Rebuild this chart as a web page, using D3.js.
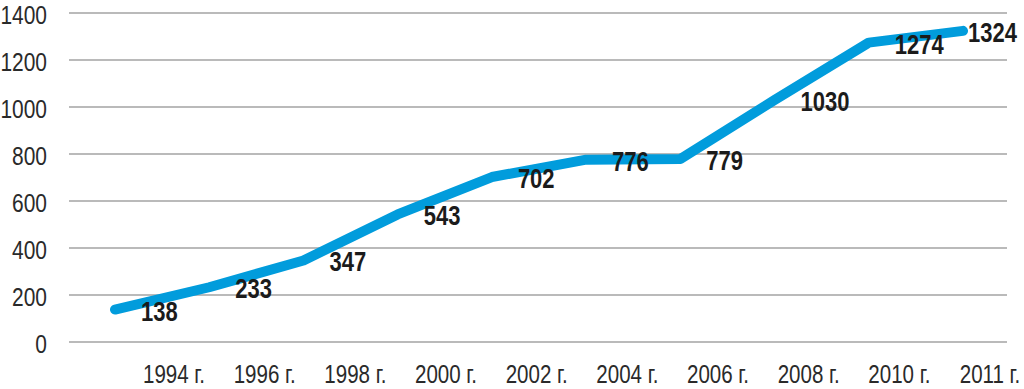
<!DOCTYPE html>
<html>
<head>
<meta charset="utf-8">
<script src="https://cdn.jsdelivr.net/npm/d3@7"></script>
<style>
  html, body { margin: 0; padding: 0; background: #fff; }
  svg { display: block; }
</style>
</head>
<body>
<svg id="chart" width="1024" height="389"></svg>
<script>
const years = ["1994 г.", "1996 г.", "1998 г.", "2000 г.", "2002 г.", "2004 г.", "2006 г.", "2008 г.", "2010 г.", "2011 г."];
const values = [138, 233, 347, 543, 702, 776, 779, 1030, 1274, 1324];
const yTicks = [0, 200, 400, 600, 800, 1000, 1200, 1400];

const svg = d3.select("#chart");

const y = d3.scaleLinear().domain([0, 1400]).range([342, 13]);
const x = d3.scalePoint().domain(d3.range(values.length)).range([115, 963]);
const xLab = d3.scalePoint().domain(d3.range(years.length)).range([174, 990]);

const font = "'Liberation Sans', Arial, sans-serif";
const SX = 0.79;

// gridlines
svg.append("g").selectAll("line").data(yTicks).join("line")
  .attr("x1", 69).attr("x2", 1007)
  .attr("y1", d => y(d)).attr("y2", d => y(d))
  .attr("stroke", "#a3a3a3").attr("stroke-width", 1.6);

// y axis labels
const yAxis = d3.axisLeft(y).tickValues(yTicks).tickSize(0).tickPadding(0).tickFormat(d3.format("d"));
const gy = svg.append("g").attr("transform", "translate(47,2)").call(yAxis);
gy.select(".domain").remove();
gy.selectAll("text")
  .attr("font-family", font).attr("font-size", 26.5).attr("fill", "#2a2a2a")
  .attr("transform", `scale(${SX},1)`);

// x labels
svg.append("g").selectAll("text").data(years).join("text")
  .attr("transform", (d, i) => `translate(${xLab(i)},383) scale(${SX},1)`)
  .attr("text-anchor", "middle")
  .attr("font-family", font).attr("font-size", 26).attr("fill", "#2a2a2a")
  .text(d => d);

// line
const line = d3.line().x((d, i) => x(i)).y(d => y(d));
svg.append("path").datum(values)
  .attr("d", line)
  .attr("fill", "none").attr("stroke", "#019cdc").attr("stroke-width", 10)
  .attr("stroke-linecap", "round").attr("stroke-linejoin", "round");

// value labels
svg.append("g").selectAll("text").data(values).join("text")
  .attr("transform", (d, i) => `translate(${x(i) + (i === values.length - 1 ? 5 : 26)},${y(d) + 11}) scale(0.8,1)`)
  .attr("font-family", font).attr("font-size", 27.5).attr("font-weight", "bold")
  .attr("fill", "#1b1b1b")
  .text(d => d);
</script>
</body>
</html>
